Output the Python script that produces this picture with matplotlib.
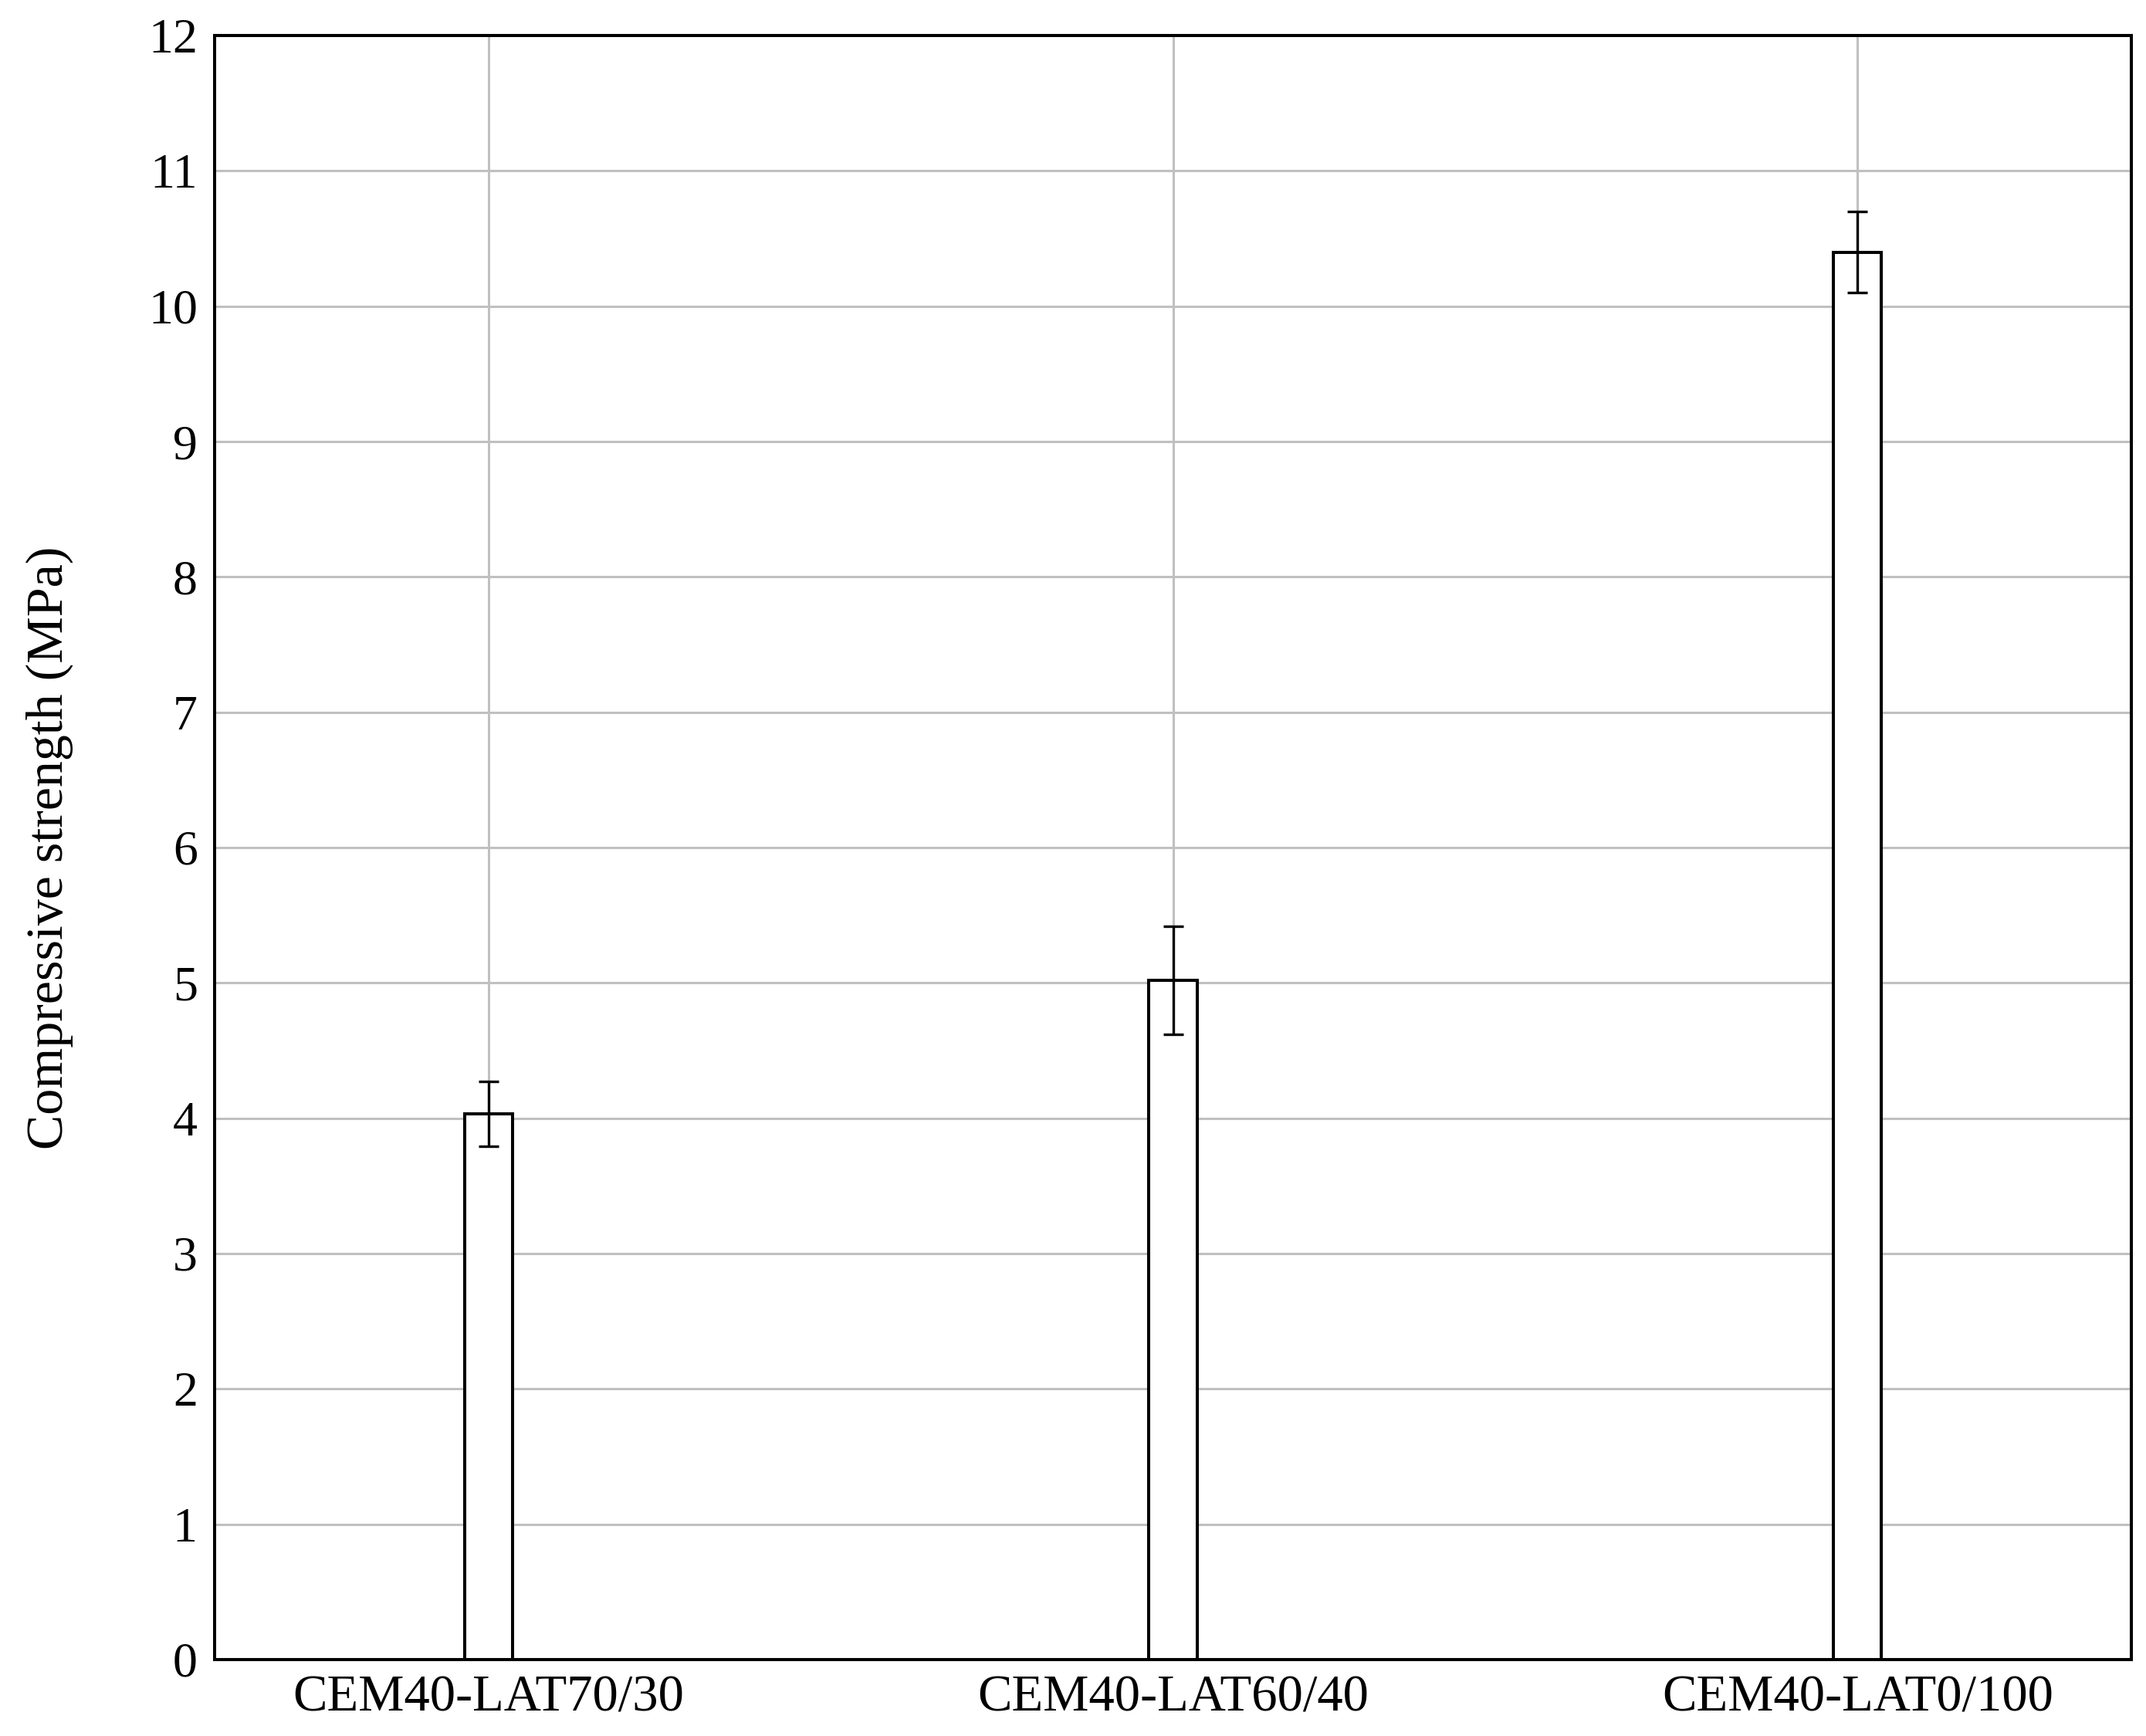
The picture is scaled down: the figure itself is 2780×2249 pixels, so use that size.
import matplotlib.pyplot as plt
import numpy as np

categories = ["CEM40-LAT70/30", "CEM40-LAT60/40", "CEM40-LAT0/100"]
strength = [4.03, 5.02, 10.40]
strength_err = [0.24, 0.40, 0.30]

plt.rcParams['font.family'] = ['Liberation Serif', 'DejaVu Serif']

fig = plt.figure(figsize=(27.8, 22.49), dpi=100)
ax = fig.add_axes([278 / 2780, 1 - 2150 / 2249, 2483 / 2780, 2104 / 2249])

x = np.arange(len(categories))
ax.bar(x, strength, width=0.07, color='white', edgecolor='black', linewidth=2.9, zorder=3)
ax.errorbar(x, strength, yerr=strength_err, fmt='none', ecolor='black',
            elinewidth=2.4, capsize=9.4, capthick=2.4, zorder=4)

ax.set_xlim(-0.4, 2.4)
ax.set_ylim(0, 12)
ax.set_yticks(np.arange(0, 13, 1))
ax.set_xticks(x)
ax.set_xticklabels(categories)
ax.tick_params(axis='y', labelsize=46, length=0, pad=16)
ax.tick_params(axis='x', labelsize=48, length=0, pad=14)
ax.grid(True, color='#c0c0c0', linewidth=2.2, zorder=0)
ax.set_axisbelow(True)
for s in ax.spines.values():
    s.set_linewidth(2.9)

ax.set_ylabel("Compressive strength (MPa)", fontsize=49, labelpad=70)

fig.savefig("out.png", dpi=100)
